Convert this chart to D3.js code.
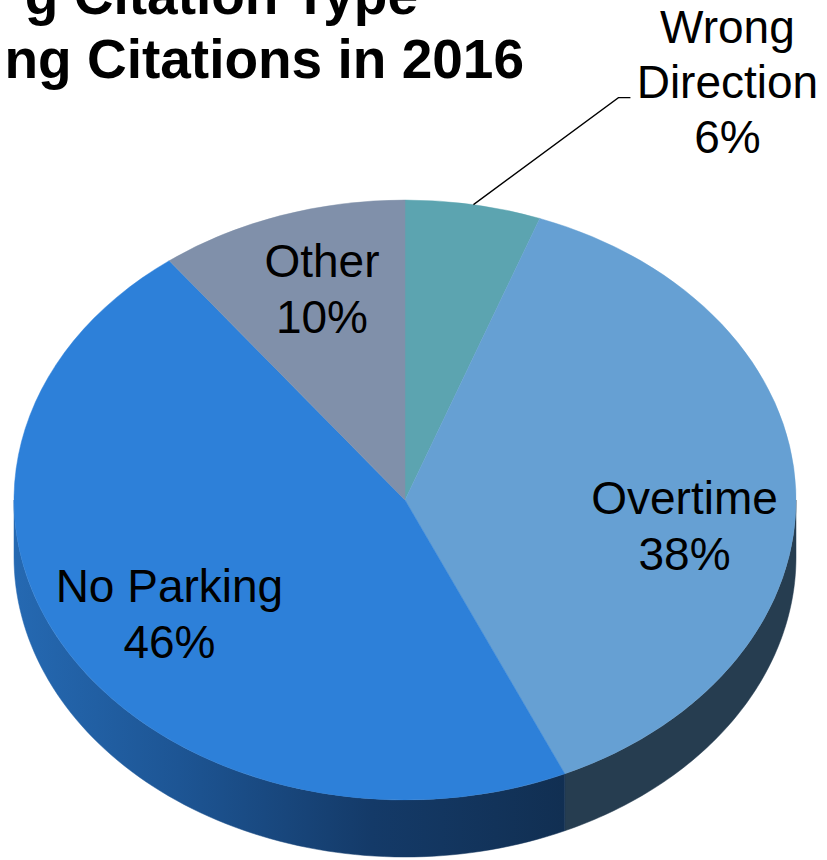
<!DOCTYPE html>
<html>
<head>
<meta charset="utf-8">
<script src="https://cdn.jsdelivr.net/npm/d3@7/dist/d3.min.js"></script>
<style>
  html, body { margin: 0; padding: 0; background: #ffffff; }
  svg { display: block; }
</style>
</head>
<body>
<svg id="chart" width="827" height="860"></svg>
<script>
// ---- data ----
const categories = ["Wrong Direction", "Overtime", "No Parking", "Other"];
const labelLines = [["Wrong", "Direction"], ["Overtime"], ["No Parking"], ["Other"]];
const values = [5.6, 37.7, 46.4, 10.3];
const titleLines = ["g Citation Type", "ng Citations in 2016"];

// ---- styles / layout ----
const topColors = ["#5ca4b0", "#66a0d3", "#2d80d9", "#8090aa"];
const sideColors = ["#2e5a63", "#263d50", "url(#npSide)", "#414a5a"];
const W = 827, H = 860;
const cx = 405, cy = 500, rx = 391, ry = 300, depth = 57;
const labelFactor = 0.7;
const labelNudge = [[0, 0], [6, 33], [0, 7], [4, -12]];

const svg = d3.select("#chart");
const defs = svg.append("defs");
const grad = defs.append("linearGradient")
  .attr("id", "npSide").attr("gradientUnits", "userSpaceOnUse")
  .attr("x1", cx - rx).attr("y1", 0).attr("x2", cx + 160).attr("y2", 0);
grad.append("stop").attr("offset", "0").attr("stop-color", "#2569b2");
grad.append("stop").attr("offset", "0.3").attr("stop-color", "#1d5594");
grad.append("stop").attr("offset", "0.65").attr("stop-color", "#143a68");
grad.append("stop").attr("offset", "1").attr("stop-color", "#112f52");

const pie = d3.pie().sort(null).value(d => d)(values);
const total = d3.sum(values);

// ellipse mapping from angle
const ex = t => cx + rx * Math.sin(t);
const ey = t => cy - ry * Math.cos(t);

// ---- sides (visible lower half) ----
const sideG = svg.append("g");
pie.forEach((p, i) => {
  const t0 = Math.max(p.startAngle, Math.PI / 2);
  const t1 = Math.min(p.endAngle, 3 * Math.PI / 2);
  if (t1 <= t0) return;
  const n = 80;
  const ts = d3.range(n + 1).map(k => t0 + (t1 - t0) * k / n);
  const pts = ts.map(t => [ex(t), ey(t)])
    .concat(ts.slice().reverse().map(t => [ex(t), ey(t) + depth]));
  sideG.append("path")
    .attr("d", d3.line()(pts) + "Z")
    .attr("fill", sideColors[i])
    .attr("stroke", sideColors[i]).attr("stroke-width", 0.5);
});

// ---- top faces ----
const arc = d3.arc().innerRadius(0).outerRadius(ry);
const topG = svg.append("g")
  .attr("transform", `translate(${cx},${cy}) scale(${rx / ry},1)`);
topG.selectAll("path").data(pie).join("path")
  .attr("d", arc)
  .attr("fill", (d, i) => topColors[i])
  .attr("stroke", (d, i) => topColors[i]).attr("stroke-width", 0.4);

// ---- labels ----
const font = "'Liberation Sans', Arial, sans-serif";
const labG = svg.append("g").attr("font-family", font).attr("font-size", 46)
  .attr("fill", "#000").attr("text-anchor", "middle");
const fmt = v => Math.round(v / total * 100) + "%";
pie.forEach((p, i) => {
  const mid = (p.startAngle + p.endAngle) / 2;
  if (i === 0) {
    // outside label with leader line
    const ax = ex(mid), ay = ey(mid);
    const bx = ax + 145, by = ay - 107;
    svg.append("polyline")
      .attr("points", [[ax, ay], [bx, by], [bx + 12, by]].map(q => q.join(",")).join(" "))
      .attr("fill", "none").attr("stroke", "#000").attr("stroke-width", 1.3);
    const lx = bx + 109;
    const lines = labelLines[i].concat([fmt(p.value)]);
    lines.forEach((s, k) => {
      labG.append("text").attr("x", lx).attr("y", by - 55 + k * 55).text(s);
    });
  } else {
    const lx = cx + labelFactor * rx * Math.sin(mid) + labelNudge[i][0];
    const ly = cy - labelFactor * ry * Math.cos(mid) + labelNudge[i][1];
    const lines = labelLines[i].concat([fmt(p.value)]);
    lines.forEach((s, k) => {
      labG.append("text").attr("x", lx).attr("y", ly - 12 + k * 56).text(s);
    });
  }
});

// ---- title (cropped at left edge) ----
const titleG = svg.append("g").attr("font-family", font).attr("font-size", 55)
  .attr("font-weight", "bold").attr("fill", "#000").attr("text-anchor", "end");
titleG.append("text").attr("x", 418).attr("y", 14).text(titleLines[0]);
titleG.append("text").attr("x", 524).attr("y", 78).text(titleLines[1]);
</script>
</body>
</html>
